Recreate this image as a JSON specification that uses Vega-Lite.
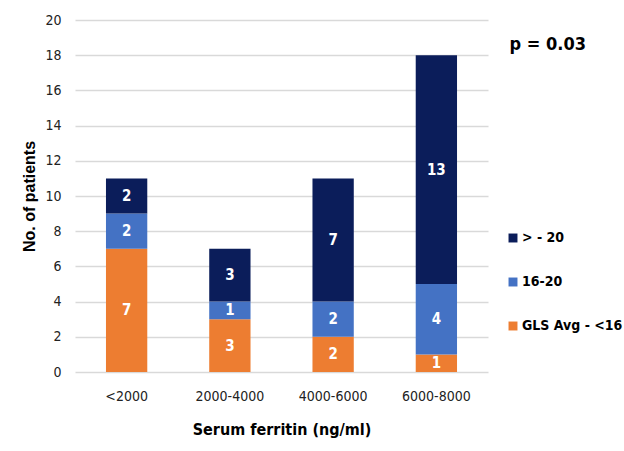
{
  "$schema": "https://vega.github.io/schema/vega-lite/v6.json",
  "autosize": {"type": "none"},
  "width": 413,
  "height": 352,
  "padding": {"left": 75, "top": 20, "right": 136, "bottom": 79},
  "background": "white",
  "config": {"view": {"stroke": null}, "font": "DejaVu Sans Condensed, Roboto Condensed, Roboto, sans-serif"},
  "title": {
    "text": "p = 0.03",
    "anchor": "end",
    "frame": "group",
    "orient": "top",
    "offset": 0,
    "dx": 98,
    "dy": 50,
    "baseline": "middle",
    "fontSize": 18,
    "fontWeight": "bold",
    "color": "#000000",
    "font": "DejaVu Sans Condensed, Roboto Condensed, Roboto, sans-serif"
  },
  "data": {
    "values": [
      {"ferritin": "<2000", "gls": "GLS Avg - <16", "ord": 1, "count": 7},
      {"ferritin": "<2000", "gls": "16-20", "ord": 2, "count": 2},
      {"ferritin": "<2000", "gls": "> - 20", "ord": 3, "count": 2},
      {"ferritin": "2000-4000", "gls": "GLS Avg - <16", "ord": 1, "count": 3},
      {"ferritin": "2000-4000", "gls": "16-20", "ord": 2, "count": 1},
      {"ferritin": "2000-4000", "gls": "> - 20", "ord": 3, "count": 3},
      {"ferritin": "4000-6000", "gls": "GLS Avg - <16", "ord": 1, "count": 2},
      {"ferritin": "4000-6000", "gls": "16-20", "ord": 2, "count": 2},
      {"ferritin": "4000-6000", "gls": "> - 20", "ord": 3, "count": 7},
      {"ferritin": "6000-8000", "gls": "GLS Avg - <16", "ord": 1, "count": 1},
      {"ferritin": "6000-8000", "gls": "16-20", "ord": 2, "count": 4},
      {"ferritin": "6000-8000", "gls": "> - 20", "ord": 3, "count": 13}
    ]
  },
  "transform": [
    {"stack": "count", "groupby": ["ferritin"], "sort": [{"field": "ord", "order": "ascending"}], "as": ["y0", "y1"]},
    {"calculate": "(datum.y0 + datum.y1) / 2", "as": "ymid"}
  ],
  "encoding": {
    "x": {
      "field": "ferritin",
      "type": "nominal",
      "sort": ["<2000", "2000-4000", "4000-6000", "6000-8000"],
      "scale": {"paddingInner": 0.6, "paddingOuter": 0.3},
      "axis": {
        "title": "Serum ferritin (ng/ml)",
        "titleFontSize": 16,
        "titleFontWeight": "bold",
        "titleColor": "#000000",
        "titlePadding": 18,
        "labelAngle": 0,
        "labelFontSize": 14,
        "labelColor": "#222222",
        "labelPadding": 17,
        "ticks": false,
        "domain": false
      }
    }
  },
  "layer": [
    {
      "mark": {"type": "bar"},
      "encoding": {
        "y": {
          "field": "y0",
          "type": "quantitative",
          "scale": {"domain": [0, 20]},
          "axis": {
            "title": "No. of patients",
            "titleFont": "Liberation Sans, sans-serif",
            "titleFontSize": 16,
            "titleFontWeight": "bold",
            "titleColor": "#000000",
            "titlePadding": 7,
            "values": [0, 2, 4, 6, 8, 10, 12, 14, 16, 18, 20],
            "labelOverlap": false,
            "labelFontSize": 14,
            "labelColor": "#222222",
            "labelPadding": 14,
            "ticks": false,
            "domain": false,
            "grid": true,
            "gridColor": "#d9d9d9",
            "gridWidth": 1.5
          }
        },
        "y2": {"field": "y1"},
        "color": {
          "field": "gls",
          "type": "nominal",
          "scale": {
            "domain": ["> - 20", "16-20", "GLS Avg - <16"],
            "range": ["#0b1d5a", "#4472c4", "#ed7d31"]
          },
          "legend": {
            "title": null,
            "orient": "none",
            "legendX": 431,
            "legendY": 211,
            "symbolType": "square",
            "symbolSize": 80,
            "symbolStrokeWidth": 0,
            "labelFontSize": 14,
            "labelFontWeight": "bold",
            "labelColor": "#000000",
            "labelLimit": 200,
            "rowPadding": 30,
            "labelOffset": 2
          }
        }
      }
    },
    {
      "mark": {"type": "text", "color": "white", "fontSize": 15, "fontWeight": "bold", "baseline": "middle"},
      "encoding": {
        "y": {
          "field": "ymid",
          "type": "quantitative",
          "scale": {"domain": [0, 20]},
          "axis": {
            "title": "No. of patients",
            "titleFont": "Liberation Sans, sans-serif",
            "titleFontSize": 16,
            "titleFontWeight": "bold",
            "titleColor": "#000000",
            "titlePadding": 7,
            "values": [0, 2, 4, 6, 8, 10, 12, 14, 16, 18, 20],
            "labelOverlap": false,
            "labelFontSize": 14,
            "labelColor": "#222222",
            "labelPadding": 14,
            "ticks": false,
            "domain": false,
            "grid": true,
            "gridColor": "#d9d9d9",
            "gridWidth": 1.5
          }
        },
        "text": {"field": "count", "type": "quantitative"}
      }
    }
  ]
}
